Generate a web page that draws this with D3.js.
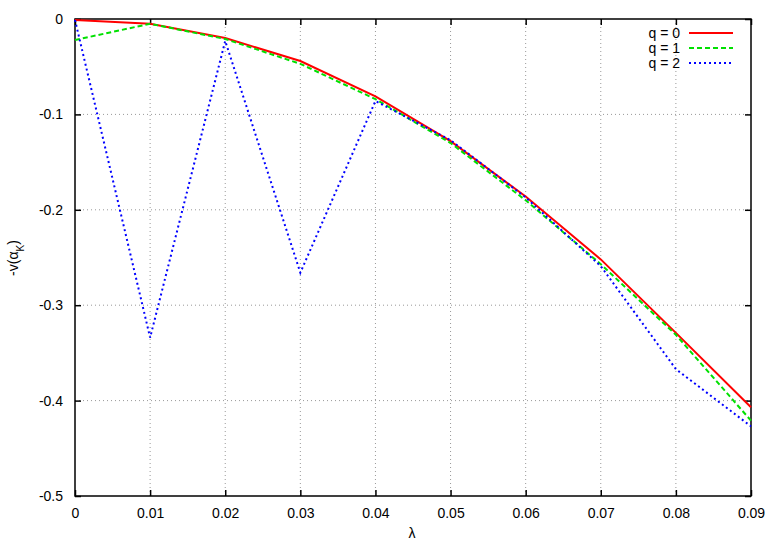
<!DOCTYPE html>
<html><head><meta charset="utf-8">
<script src="https://cdn.jsdelivr.net/npm/d3@7"></script>
<style>body{margin:0;background:#fff}svg{display:block}text{font-family:"Liberation Sans",Arial,sans-serif;font-size:14px;fill:#000}</style>
</head><body><svg id="c" width="778" height="545"></svg>
<script>
const lambdas = [0,0.01,0.02,0.03,0.04,0.05,0.06,0.07,0.08,0.09];
const q0 = [-0.001,-0.005,-0.020,-0.044,-0.081,-0.128,-0.186,-0.252,-0.329,-0.407];
const q1 = [-0.022,-0.005,-0.021,-0.047,-0.084,-0.130,-0.190,-0.257,-0.331,-0.421];
const q2 = [-0.001,-0.334,-0.023,-0.266,-0.086,-0.127,-0.187,-0.259,-0.367,-0.427];
const xTicks = [0,0.01,0.02,0.03,0.04,0.05,0.06,0.07,0.08,0.09];
const yTicks = [0,-0.1,-0.2,-0.3,-0.4,-0.5];
const seriesNames = ["q = 0","q = 1","q = 2"];
const seriesColors = ["#ff0000","#00e000","#0000ff"];
const seriesDash = [null,"5,3","2,3"];

const svg = d3.select("#c");
const L=75,R=751,T=19,B=496;
const x = d3.scaleLinear().domain([0,0.09]).range([L,R]);
const y = d3.scaleLinear().domain([-0.5,0]).range([B,T]);
const g = svg.append("g");
// grid
g.selectAll(".gx").data(xTicks.slice(1,-1)).enter().append("line")
 .attr("x1",d=>x(d)).attr("x2",d=>x(d)).attr("y1",T).attr("y2",B)
 .attr("stroke","#999").attr("stroke-width",1).attr("stroke-dasharray","1,3");
g.selectAll(".gy").data(yTicks.slice(1,-1)).enter().append("line")
 .attr("y1",d=>y(d)).attr("y2",d=>y(d)).attr("x1",L).attr("x2",R)
 .attr("stroke","#999").attr("stroke-width",1).attr("stroke-dasharray","1,3");
// axes
const fmtX = d=> d===0?"0":d3.format(".2f")(d).replace("\u2212","-");
const fmtY = d=> d===0?"0":d3.format(".1f")(d).replace("\u2212","-");
const ax = g.append("g").attr("transform",`translate(0,${B})`).call(d3.axisBottom(x).tickValues(xTicks).tickFormat(fmtX).tickSizeInner(-6).tickSizeOuter(0).tickPadding(12));
const ay = g.append("g").attr("transform",`translate(${L},0)`).call(d3.axisLeft(y).tickValues(yTicks).tickFormat(fmtY).tickSizeInner(-6).tickSizeOuter(0).tickPadding(12));
const axT = g.append("g").attr("transform",`translate(0,${T})`).call(d3.axisTop(x).tickValues(xTicks).tickFormat("").tickSizeInner(-6).tickSizeOuter(0));
const ayR = g.append("g").attr("transform",`translate(${R},0)`).call(d3.axisRight(y).tickValues(yTicks).tickFormat("").tickSizeInner(-6).tickSizeOuter(0));
[ax,ay,axT,ayR].forEach(a=>{a.select(".domain").remove();a.selectAll("line").attr("stroke","#000").attr("stroke-width",1.5);a.selectAll("text").style("font-size","14px").style("font-family","Liberation Sans, Arial, sans-serif").attr("fill","#000");});
ax.selectAll("text").attr("dy","0.71em");
g.append("rect").attr("x",L).attr("y",T).attr("width",R-L).attr("height",B-T).attr("fill","none").attr("stroke","#000").attr("stroke-width",1.5);
// lines
const data=[q0,q1,q2];
const line = d3.line().x((d,i)=>x(lambdas[i])).y(d=>y(d));
data.forEach((s,i)=>{
  const p = g.append("path").datum(s).attr("d",line).attr("fill","none")
   .attr("stroke",seriesColors[i]).attr("stroke-width",2);
  if(seriesDash[i]) p.attr("stroke-dasharray",seriesDash[i]);
});
// legend
seriesNames.forEach((n,i)=>{
  const yy = 33+i*15;
  g.append("text").attr("x",680).attr("y",yy).attr("dy","0.35em").attr("text-anchor","end").text(n);
  const l = g.append("line").attr("x1",689).attr("x2",733).attr("y1",yy).attr("y2",yy)
   .attr("stroke",seriesColors[i]).attr("stroke-width",2);
  if(seriesDash[i]) l.attr("stroke-dasharray",seriesDash[i]);
});
// labels
svg.append("text").attr("x",412).attr("y",538).attr("text-anchor","middle").text("λ");
const yl = svg.append("text").attr("transform","translate(18,258) rotate(-90)").attr("text-anchor","middle");
yl.append("tspan").text("-v(α");
yl.append("tspan").attr("baseline-shift","sub").style("font-size","10px").text("K");
yl.append("tspan").text(")");
</script></body></html>
